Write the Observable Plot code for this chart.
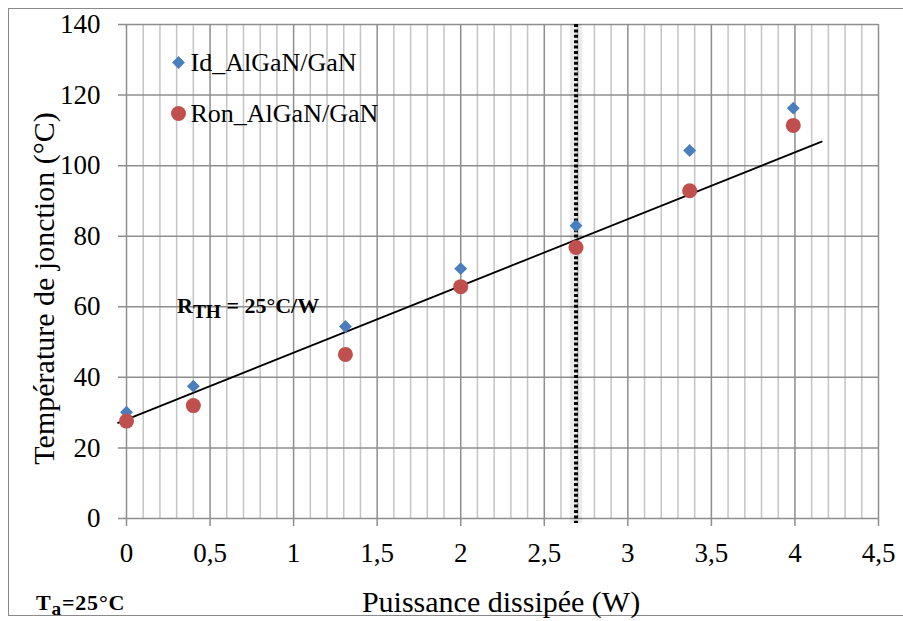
<!DOCTYPE html>
<html>
<head>
<meta charset="utf-8">
<script src="https://cdn.jsdelivr.net/npm/d3@7"></script>
<script src="https://cdn.jsdelivr.net/npm/@observablehq/plot@0.6"></script>
<style>
  html, body { margin: 0; padding: 0; background: #fff; }
  #wrap { position: relative; width: 903px; height: 621px; overflow: hidden; font-family: "Liberation Serif", serif; }
  #wrap svg { position: absolute; left: 0; top: 0; }
  .frame { position: absolute; left: 8px; top: 8px; width: 920px; height: 608px; border: 1.5px solid #8a8a8a; box-sizing: border-box; }
  .note { position: absolute; font-weight: bold; white-space: nowrap; line-height: 1; color: #000; font-family: "Liberation Serif", serif; }
  .note sub { vertical-align: -5px; font-size: 0.88em; }
  .below { position: absolute; left: 0; top: 617.5px; width: 903px; height: 4px; background: #fff; }
</style>
</head>
<body>
<div id="wrap">
  <div class="frame"></div>
</div>
<script>
// ---- data ----
const power = [0, 0.4, 1.31, 2.0, 2.69, 3.37, 3.99];
const tempId = [30.1, 37.5, 54.4, 70.8, 83.0, 104.3, 116.3];
const tempRon = [27.6, 32.0, 46.5, 65.7, 76.8, 92.9, 111.4];
const seriesNames = ["Id_AlGaN/GaN", "Ron_AlGaN/GaN"];
const trendX = [-0.05, 4.16];
const trendY = [27.1, 106.8];
const markerX = 2.69;
const xTicks = [0, 0.5, 1, 1.5, 2, 2.5, 3, 3.5, 4, 4.5];
const xTickLabels = ["0", "0,5", "1", "1,5", "2", "2,5", "3", "3,5", "4", "4,5"];
const yTicks = [0, 20, 40, 60, 80, 100, 120, 140];
const xLabel = "Puissance dissipée (W)";
const yLabel = "Température de jonction (°C)";

const idData = power.map((p, i) => ({x: p, y: tempId[i]}));
const ronData = power.map((p, i) => ({x: p, y: tempRon[i]}));
const trend = trendX.map((x, i) => ({x, y: trendY[i]}));
const minorX = d3.range(1, 45).map(i => i / 10).filter(v => Math.abs(v * 2 - Math.round(v * 2)) > 1e-6);

const blue = "#4A7EBF";
const red = "#C0504D";

const plot = Plot.plot({
  width: 903,
  height: 621,
  marginLeft: 126,
  marginRight: 25,
  marginTop: 24,
  marginBottom: 103,
  style: {background: "transparent", color: "#000"},
  x: {domain: [0, 4.5], label: null},
  y: {domain: [0, 140], label: null},
  marks: [
    Plot.ruleX(minorX, {stroke: "#c4c4c4", strokeWidth: 1.5}),
    Plot.ruleX(xTicks, {stroke: "#8e8e8e", strokeWidth: 1.5, insetBottom: -8}),
    Plot.ruleY(yTicks, {stroke: "#8e8e8e", strokeWidth: 1.5, insetLeft: -8}),
    Plot.axisX({ticks: xTicks, tickSize: 0, tickPadding: 24, fontSize: 27,
      tickFormat: d => xTickLabels[xTicks.indexOf(d)], label: null}),
    Plot.axisY({ticks: yTicks, tickSize: 0, tickPadding: 26, fontSize: 27, label: null}),
    Plot.ruleX([markerX], {stroke: "#000", strokeOpacity: 0.08, strokeWidth: 12, insetBottom: -5}),
    Plot.ruleX([markerX], {stroke: "#000", strokeWidth: 4, strokeDasharray: "3,2.4", insetBottom: -5}),
    Plot.line(trend, {x: "x", y: "y", stroke: "#000", strokeWidth: 1.8}),
    Plot.dot(idData, {x: "x", y: "y", symbol: "diamond2", r: 5.8, fill: blue, stroke: "none"}),
    Plot.dot(ronData, {x: "x", y: "y", symbol: "circle", r: 7.5, fill: red, stroke: "none"}),
    // legend
    Plot.dot([seriesNames[0]], {frameAnchor: "top-left", dx: 52, dy: 38, symbol: "diamond2", r: 5.8, fill: blue}),
    Plot.dot([seriesNames[1]], {frameAnchor: "top-left", dx: 52, dy: 89, symbol: "circle", r: 7.5, fill: red}),
    Plot.text([seriesNames[0]], {frameAnchor: "top-left", dx: 64, dy: 38.5, text: d => d, textAnchor: "start", lineAnchor: "middle", fontSize: 26}),
    Plot.text([seriesNames[1]], {frameAnchor: "top-left", dx: 64, dy: 89.5, text: d => d, textAnchor: "start", lineAnchor: "middle", fontSize: 26}),
    // axis titles
    Plot.text([xLabel], {frameAnchor: "bottom", dx: -1.5, dy: 93, text: d => d, textAnchor: "middle", lineAnchor: "bottom", fontSize: 30}),
    Plot.text([yLabel], {frameAnchor: "left", dx: -73, dy: 17, rotate: -90, text: d => d, textAnchor: "middle", lineAnchor: "bottom", fontSize: 30})
  ]
});

plot.setAttribute("font-family", "Liberation Serif");
plot.style.setProperty("font-family", "'Liberation Serif', serif", "important");
plot.querySelectorAll("text, g").forEach(el => {
  el.removeAttribute("font-family");
  el.style.setProperty("font-family", "'Liberation Serif', serif", "important");
});

const wrap = document.getElementById("wrap");
wrap.appendChild(plot);

const rth = document.createElement("div");
rth.className = "note";
rth.style.cssText = "left:177px;top:295px;font-size:22px;";
rth.innerHTML = "R<sub>TH</sub> = 25°C/W";
wrap.appendChild(rth);

const ta = document.createElement("div");
ta.className = "note";
ta.style.cssText = "left:36px;top:592px;font-size:22px;letter-spacing:0.8px;";
ta.innerHTML = "T<sub>a</sub>=25°C";
wrap.appendChild(ta);

const below = document.createElement("div");
below.className = "below";
wrap.appendChild(below);
</script>
</body>
</html>
